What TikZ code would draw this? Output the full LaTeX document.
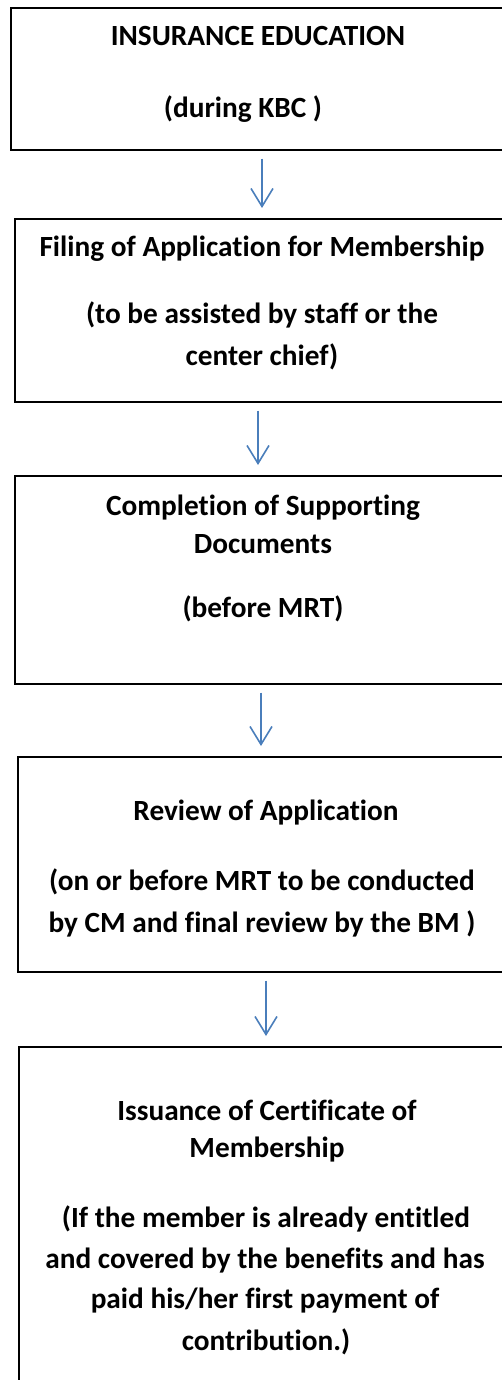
\documentclass[tikz,border=0pt]{standalone}
\usepackage{fontspec}
\setmainfont[Ligatures=NoCommon]{Carlito}
\usetikzlibrary{arrows.meta}
\definecolor{arrblue}{HTML}{4A7EBB}
\begin{document}
\begin{tikzpicture}[x=1pt,y=-1pt,
  box/.style={draw=black,line width=1.6pt,inner sep=0pt},
  txt/.style={anchor=base,inner sep=0pt,font=\fontsize{29.3}{35}\selectfont\bfseries},
  arr/.style={draw=arrblue,line width=1.6pt,-{Straight Barb[length=18pt,width=22pt,line width=1.6pt]},shorten <=8pt,shorten >=10pt}]
\useasboundingbox (0,0) rectangle (501,1380);
% boxes
\node[box,minimum width=495pt,minimum height=142pt,anchor=north west] (b1) at (10,7) {};
\node[box,minimum width=491pt,minimum height=183pt,anchor=north west] (b2) at (14,218) {};
\node[box,minimum width=491pt,minimum height=208pt,anchor=north west] (b3) at (14,475) {};
\node[box,minimum width=488pt,minimum height=215pt,anchor=north west] (b4) at (17,756) {};
\node[box,minimum width=487pt,minimum height=345pt,anchor=north west] (b5) at (18,1046) {};
% texts
\node[txt] (t1a) at (258,46) {INSURANCE EDUCATION};
\node[txt] (t1b) at (243,118) {(during KBC )};
\node[txt] (t2a) at (262,256) {Filing of Application for Membership};
\node[txt] (t2b) at (262,323) {(to be assisted by staff or the};
\node[txt] (t2c) at (262,365) {center chief)};
\node[txt] (t3a) at (263,515) {Completion of Supporting};
\node[txt] (t3b) at (263,553) {Documents};
\node[txt] (t3c) at (263,617) {(before MRT)};
\node[txt] (t4a) at (266,820) {Review of Application};
\node[txt] (t4b) at (262,890) {(on or before MRT to be conducted};
\node[txt] (t4c) at (262,932) {by CM and final review by the BM )};
\node[txt] (t5a) at (267,1120) {Issuance of Certificate of};
\node[txt] (t5b) at (267,1157) {Membership};
\node[txt] (t5c) at (266,1227) {(If the member is already entitled};
\node[txt] (t5d) at (265,1268) {and covered by the benefits and has};
\node[txt] (t5e) at (265,1308) {paid his/her first payment of};
\node[txt] (t5f) at (266,1350) {contribution.)};
% arrows
\coordinate (c1) at (262,0);
\coordinate (c2) at (258,0);
\coordinate (c3) at (261,0);
\coordinate (c4) at (266,0);
\draw[arr] (b1.south -| c1) -- (b2.north -| c1);
\draw[arr] (b2.south -| c2) -- (b3.north -| c2);
\draw[arr] (b3.south -| c3) -- (b4.north -| c3);
\draw[arr] (b4.south -| c4) -- (b5.north -| c4);
\end{tikzpicture}
\end{document}
